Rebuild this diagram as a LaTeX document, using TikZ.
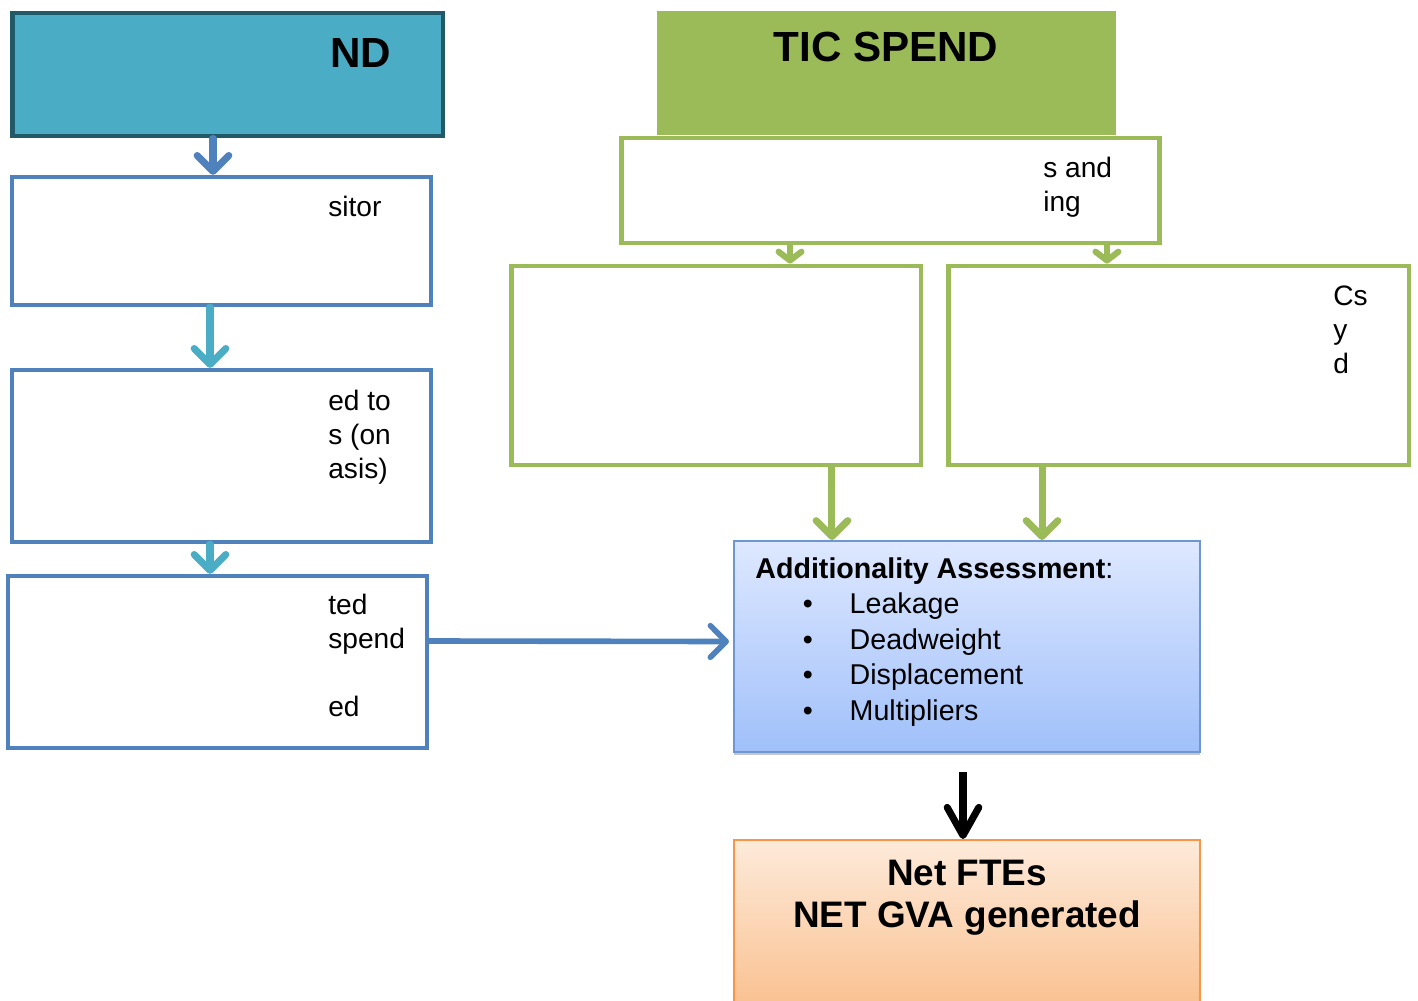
\documentclass[tikz,border=0pt]{standalone}
\usepackage{fontspec}
\setmainfont{Liberation Sans}
\usetikzlibrary{arrows.meta, positioning, shadows}
\definecolor{tealfill}{HTML}{4BACC6}
\definecolor{tealdark}{HTML}{215968}
\definecolor{boxblue}{HTML}{4F81BD}
\definecolor{boxgreen}{HTML}{9BBB59}
\definecolor{asstop}{RGB}{222,232,255}
\definecolor{assbot}{RGB}{160,192,250}
\definecolor{assline}{RGB}{110,150,210}
\definecolor{nettop}{RGB}{253,234,218}
\definecolor{netbot}{RGB}{250,192,143}
\definecolor{netline}{HTML}{F79646}

\begin{document}
\begin{tikzpicture}[
    x = 0.02cm, y = -0.02cm,
    hdr/.style = {draw=tealdark, fill=tealfill, line width=2.8pt},
    lbox/.style = {draw=boxblue, fill=white, line width=2.5pt,
                minimum width=8.38cm},
    gbox/.style = {draw=boxgreen, fill=white, line width=2.8pt},
    txt/.style = {anchor=base west, align=left, inner sep=0pt,
                font=\fontsize{16}{19.3}\selectfont},
    ttl/.style = {anchor=base, inner sep=0pt,
                font=\fontsize{24}{28}\selectfont\bfseries},
    barb/.style = {line width=4pt, line cap=round,
                -{Straight Barb[round, length=9pt, width=18pt]}}
                    ]
\useasboundingbox (0,0) rectangle (1418,1001);

% left column
\node (n1) [hdr, minimum width=8.62cm, minimum height=2.46cm] at (227.5,74.5) {};
\node (n2) [lbox, minimum height=2.56cm] at (221.5,241) {};
\node (n3) [lbox, minimum height=3.44cm] at (221.5,456) {};
\node (n4) [lbox, minimum height=3.44cm] at (217.5,662) {};

% multi-line texts sit on their last baseline
\node (t1) [ttl, anchor=base west] at (330,67) {ND};
\node (t2) [txt] at (328,216) {sitor};
\node (t3) [txt] at (328,478) {ed to\\s (on\\asis)};
\node (t4) [txt] at (328,716) {ted\\spend\\ \\ed};

\draw[barb, boxblue] ([xshift=-.29cm]n1.south) -- ([xshift=-.29cm]n1.south |- n2.north);
\draw[barb, tealfill] ([xshift=-.23cm]n2.south) -- ([xshift=-.23cm]n2.south |- n3.north);
\draw[barb, tealfill] ([xshift=-.23cm]n3.south) -- ([xshift=-.23cm]n3.south |- n4.north);

% right column
\node (g0) [fill=boxgreen, minimum width=9.18cm, minimum height=2.48cm] at (886.5,73) {};
\node (g1) [gbox, minimum width=10.78cm, minimum height=2.10cm] at (890.5,190.5) {};
\node (g2) [gbox, minimum width=8.20cm, minimum height=3.98cm] at (716,365.5) {};
\node (g3) [gbox, minimum width=9.22cm, minimum height=3.98cm] at (1178.5,365.5) {};

\node (s0) [ttl] at (886,61) {TIC SPEND};
\node (s1) [txt] at (1043,211) {s and\\ing};
\node (s3) [txt] at (1333,373) {Cs\\y\\d};

\draw[boxgreen, line width=3.5pt, -{Straight Barb[round, length=5pt, width=13pt]}]
    ([xshift=-2.01cm]g1.south) -- ([xshift=-2.01cm]g1.south |- g2.north);
\draw[boxgreen, line width=3.5pt, -{Straight Barb[round, length=5pt, width=13pt]}]
    ([xshift=4.33cm]g1.south) -- ([xshift=4.33cm]g1.south |- g3.north);

% assessment and result
\node (b1) [draw=assline, line width=1.2pt, top color=asstop, bottom color=assbot,
    drop shadow={shadow xshift=0pt, shadow yshift=-2pt, opacity=.45},
    minimum width=9.32cm, minimum height=4.22cm] at (967,646.5) {};
\node (b2) [txt, font=\fontsize{16.3}{20.2}\selectfont] at (755,720)
    {\textbf{Additionality Assessment}:\\
     \hspace*{27pt}\makebox[26.7pt][l]{\textbullet}Leakage\\
     \hspace*{27pt}\makebox[26.7pt][l]{\textbullet}Deadweight\\
     \hspace*{27pt}\makebox[26.7pt][l]{\textbullet}Displacement\\
     \hspace*{27pt}\makebox[26.7pt][l]{\textbullet}Multipliers};

\node (o1) [draw=netline, line width=1.2pt, top color=nettop, bottom color=netbot,
    minimum width=9.32cm, minimum height=3.4cm, below=1.72cm of b1] {};
\node (o2) [anchor=base, align=center, inner sep=0pt,
    font=\fontsize{21}{23.8}\selectfont\bfseries] at (967,927)
    {Net FTEs\\NET GVA generated};

\draw[barb, boxgreen] ([xshift=2.32cm]g2.south) -- ([xshift=2.32cm]g2.south |- b1.north);
\draw[barb, boxgreen] ([xshift=-2.73cm]g3.south) -- ([xshift=-2.73cm]g3.south |- b1.north);
\draw[barb, boxblue, line width=3.2pt] ([yshift=.42cm]n4.east) -- ([xshift=-.08cm,yshift=.1cm]b1.west);
\draw[line width=4pt, -{Straight Barb[round, length=16pt, width=18pt]}]
    ([xshift=-.08cm,yshift=-.38cm]b1.south) -- ([xshift=-.08cm]b1.south |- o1.north);

\end{tikzpicture}
\end{document}
